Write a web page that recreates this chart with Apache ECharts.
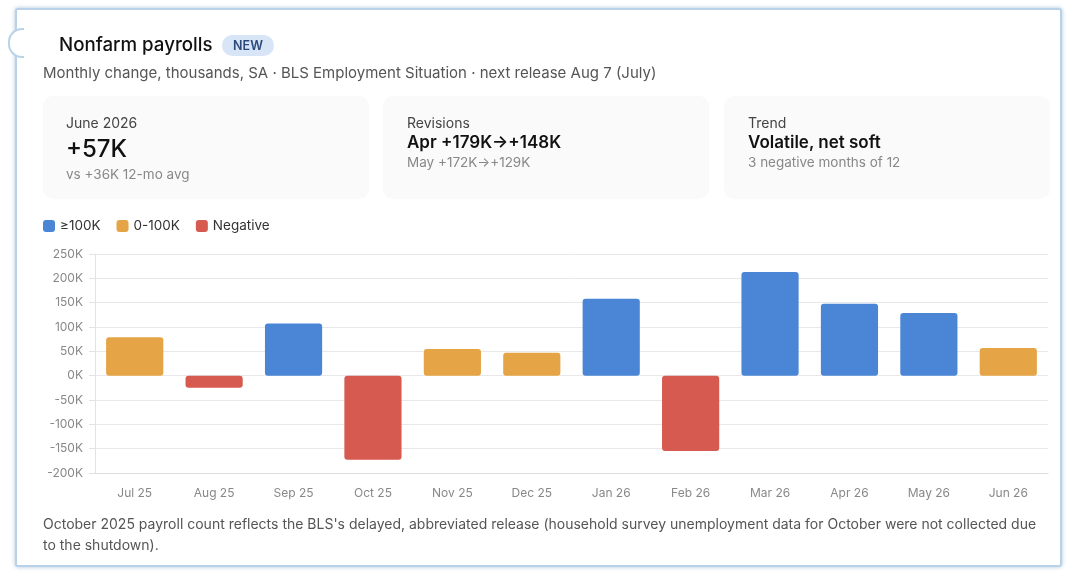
<!DOCTYPE html>
<html>
<head>
<meta charset="utf-8">
<script src="https://cdn.jsdelivr.net/npm/echarts@6/dist/echarts.min.js"></script>
<style>
  html,body{margin:0;padding:0;width:1071px;height:576px;background:#fff;overflow:hidden;font-family:Inter,"Noto Sans",sans-serif;}
  #frame{position:absolute;left:15px;top:8px;width:1043px;height:555px;border:2px solid #b9d2e8;border-radius:3px;box-shadow:0 0 4px rgba(120,160,200,0.6);background:#fff;}
  #notch{position:absolute;left:8px;top:28px;width:14px;height:26px;border:2px solid #b9d2e8;border-right:none;border-radius:14px 0 0 14px;background:#fff;}
  #chart{position:absolute;left:0;top:0;width:1071px;height:576px;}
  .t{position:absolute;white-space:nowrap;}
  .card{position:absolute;top:96px;width:326px;height:103px;background:#fafafa;border-radius:10px;}
</style>
</head>
<body>
<div id="frame"></div>
<div id="notch"></div>
<div class="card" style="left:43px"></div>
<div class="card" style="left:383px"></div>
<div class="card" style="left:724px"></div>
<div id="chart"></div>
<div class="t" style="left:59px;top:33px;font-size:18.7px;font-weight:500;color:#111;">Nonfarm payrolls</div>
<div class="t" style="left:222px;top:35px;width:52px;height:21px;line-height:21px;text-align:center;background:#d7e5f7;border-radius:11px;font-size:12.5px;font-weight:600;color:#2c4a7c;">NEW</div>
<div class="t" style="left:43px;top:63px;font-size:15px;color:#555;">Monthly change, thousands, SA · BLS Employment Situation · next release Aug 7 (July)</div>

<div class="t" style="left:66px;top:114px;font-size:14px;color:#444;">June 2026</div>
<div class="t" style="left:66px;top:134px;font-size:24px;font-weight:500;color:#111;">+57K</div>
<div class="t" style="left:66px;top:166px;font-size:13.5px;color:#888;">vs +36K 12-mo avg</div>

<div class="t" style="left:407px;top:114px;font-size:14px;color:#444;">Revisions</div>
<div class="t" style="left:407px;top:132px;font-size:17px;font-weight:600;color:#111;">Apr +179K→+148K</div>
<div class="t" style="left:407px;top:154px;font-size:13.5px;color:#888;">May +172K→+129K</div>

<div class="t" style="left:748px;top:114px;font-size:14px;color:#444;">Trend</div>
<div class="t" style="left:748px;top:132px;font-size:17px;font-weight:600;color:#111;">Volatile, net soft</div>
<div class="t" style="left:748px;top:154px;font-size:13.5px;color:#888;">3 negative months of 12</div>

<div class="t" style="left:43px;top:513px;width:1000px;white-space:normal;font-size:14px;line-height:21px;color:#555;">October 2025 payroll count reflects the BLS's delayed, abbreviated release (household survey unemployment data for October were not collected due to the shutdown).</div>

<script>
const categories = ["Jul 25","Aug 25","Sep 25","Oct 25","Nov 25","Dec 25","Jan 26","Feb 26","Mar 26","Apr 26","May 26","Jun 26"];
const values = [79, -25, 107, -173, 55, 47, 158, -155, 213, 148, 129, 57];
const seriesNames = ["≥100K", "0-100K", "Negative"];
const colors = ["#4a86d5", "#e5a445", "#d65a4f"];
const yMin = -200, yMax = 250, yStep = 50;

function bucket(v){ return v >= 100 ? 0 : (v >= 0 ? 1 : 2); }
const series = seriesNames.map((name, i) => ({
  name: name,
  type: 'bar',
  stack: 'all',
  barWidth: '72%',
  itemStyle: { color: colors[i], borderRadius: 3 },
  data: values.map(v => bucket(v) === i ? v : '-')
}));

const chart = echarts.init(document.getElementById('chart'));
chart.setOption({
  animation: false,
  textStyle: { fontFamily: 'Inter, "Noto Sans", sans-serif' },
  legend: {
    left: 38, top: 214, itemWidth: 12, itemHeight: 12, itemGap: 16,
    icon: 'roundRect',
    textStyle: { fontSize: 13.5, color: '#333' },
    data: seriesNames
  },
  grid: { left: 95, right: 23, top: 254, bottom: 103, containLabel: false },
  xAxis: {
    type: 'category', data: categories,
    axisLine: { onZero: false, lineStyle: { color: '#ddd' } },
    axisTick: { show: false },
    axisLabel: { color: '#888', fontSize: 12, margin: 14 }
  },
  yAxis: {
    type: 'value', min: yMin, max: yMax, interval: yStep,
    axisLine: { show: true, lineStyle: { color: '#e3e3e3' } },
    axisTick: { show: true, length: 6, lineStyle: { color: '#e3e3e3' } },
    splitLine: { lineStyle: { color: '#e8e8e8' } },
    axisLabel: { color: '#888', fontSize: 12, margin: 12, formatter: v => v + 'K' }
  },
  series: series
});
</script>
</body>
</html>
